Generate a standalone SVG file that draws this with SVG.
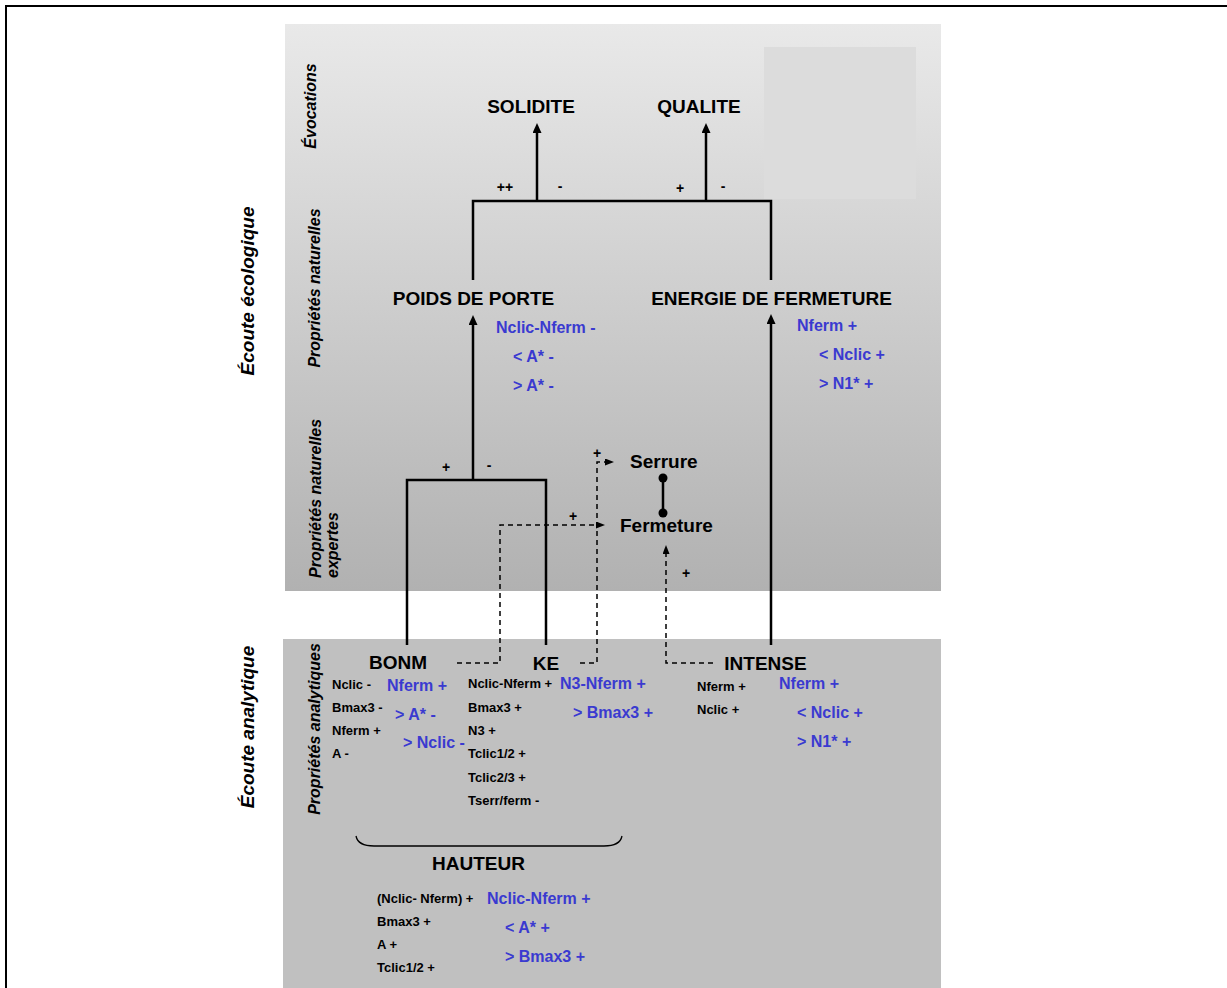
<svg xmlns="http://www.w3.org/2000/svg" width="1227" height="988" viewBox="0 0 1227 988">
<defs>
<linearGradient id="gTop" x1="0" y1="0" x2="0" y2="1">
<stop offset="0" stop-color="#e9e9e9"/>
<stop offset="1" stop-color="#b1b1b1"/>
</linearGradient>
<marker id="arr" markerUnits="userSpaceOnUse" markerWidth="10" markerHeight="9" refX="1" refY="4.5" orient="auto">
<path d="M0,0 L10,4.5 L0,9 z" fill="#000"/>
</marker>
<marker id="arrd" markerUnits="userSpaceOnUse" markerWidth="9" markerHeight="7" refX="1" refY="3.5" orient="auto">
<path d="M0,0 L9,3.5 L0,7 z" fill="#000"/>
</marker>
<style>
text{font-family:"Liberation Sans",Arial,sans-serif;font-weight:bold;fill:#000}
.t{font-size:19px}
.m{text-anchor:middle}
.b{font-size:16px;fill:#3a3ad0}
.s{font-size:13px}
.r{font-size:19px;font-style:italic;text-anchor:middle}
.p{font-size:16px;font-style:italic}
.sig{font-size:14px;text-anchor:middle}
.ln{fill:none;stroke:#000;stroke-width:2.5}
.dl{fill:none;stroke:#000;stroke-width:1.5;stroke-dasharray:5,4}
</style>
</defs>

<g id="background">
<rect x="0" y="0" width="1227" height="988" fill="#fff"/>
<path d="M6,988 V6 H1227" fill="none" stroke="#000" stroke-width="2"/>
<rect x="285" y="24" width="656" height="567" fill="url(#gTop)"/>
<rect x="764" y="47" width="152" height="152" fill="#dcdcdc"/>
<rect x="283" y="639" width="658" height="349" fill="#c0c0c0"/>
</g>

<g id="section-labels">
<text class="r" transform="translate(254,291) rotate(-90)">Écoute écologique</text>
<text class="r" transform="translate(254,727) rotate(-90)">Écoute analytique</text>
<text class="p" text-anchor="middle" transform="translate(316,106) rotate(-90)">Évocations</text>
<text class="p" text-anchor="middle" transform="translate(320,288) rotate(-90)">Propriétés naturelles</text>
<text class="p" transform="translate(321,578) rotate(-90)">Propriétés naturelles</text>
<text class="p" transform="translate(338,578) rotate(-90)">expertes</text>
<text class="p" text-anchor="middle" transform="translate(320,729) rotate(-90)">Propriétés analytiques</text>
</g>

<g id="connectors">
<path class="ln" d="M473,280 V201 H771 V280"/>
<path class="ln" d="M537,201 V132" marker-end="url(#arr)"/>
<path class="ln" d="M706,201 V132" marker-end="url(#arr)"/>
<path class="ln" d="M407,645 V480 H546 V645"/>
<path class="ln" d="M473,480 V324" marker-end="url(#arr)"/>
<path class="ln" d="M771,645 V323" marker-end="url(#arr)"/>
<path class="ln" d="M663,478 V513"/>
<circle cx="663" cy="478" r="4.5" fill="#000"/>
<circle cx="663" cy="513" r="4.5" fill="#000"/>
<path class="dl" d="M457,663 H500 V525 H597" marker-end="url(#arrd)"/>
<path class="dl" d="M580,663 H597 V462 H606" marker-end="url(#arrd)"/>
<path class="dl" d="M713,663 H666 V553" marker-end="url(#arrd)"/>
<path d="M356,836 Q358,846 374,846 H604 Q620,846 622,836" fill="none" stroke="#000" stroke-width="1.3"/>
<text class="sig" x="505" y="192">++</text>
<text class="sig" x="560" y="191">-</text>
<text class="sig" x="680" y="193">+</text>
<text class="sig" x="723" y="191">-</text>
<text class="sig" x="446" y="472">+</text>
<text class="sig" x="489" y="470">-</text>
<text class="sig" x="573" y="521">+</text>
<text class="sig" x="597" y="458">+</text>
<text class="sig" x="686" y="578">+</text>
</g>

<g id="node-solidite"><text class="t m" x="531" y="113">SOLIDITE</text></g>
<g id="node-qualite"><text class="t m" x="699" y="113">QUALITE</text></g>

<g id="node-poids">
<text class="t m" x="473.5" y="305">POIDS DE PORTE</text>
<text class="b" x="496" y="333">Nclic-Nferm -</text>
<text class="b" x="513" y="362">&lt; A* -</text>
<text class="b" x="513" y="391">&gt; A* -</text>
</g>

<g id="node-energie">
<text class="t m" x="771.5" y="305">ENERGIE DE FERMETURE</text>
<text class="b" x="797" y="331">Nferm +</text>
<text class="b" x="819" y="360">&lt; Nclic +</text>
<text class="b" x="819" y="389">&gt; N1* +</text>
</g>

<g id="node-serrure"><text class="t" x="630" y="468">Serrure</text></g>
<g id="node-fermeture"><text class="t" x="620" y="532">Fermeture</text></g>

<g id="node-bonm">
<text class="t m" x="398" y="669">BONM</text>
<text class="s" x="332" y="689">Nclic -</text>
<text class="s" x="332" y="712">Bmax3 -</text>
<text class="s" x="332" y="735">Nferm +</text>
<text class="s" x="332" y="758">A -</text>
<text class="b" x="387" y="691">Nferm +</text>
<text class="b" x="395" y="720">&gt; A* -</text>
<text class="b" x="403" y="748">&gt; Nclic -</text>
</g>

<g id="node-ke">
<text class="t m" x="546" y="670">KE</text>
<text class="s" x="468" y="688">Nclic-Nferm +</text>
<text class="s" x="468" y="712">Bmax3 +</text>
<text class="s" x="468" y="735">N3 +</text>
<text class="s" x="468" y="758">Tclic1/2 +</text>
<text class="s" x="468" y="782">Tclic2/3 +</text>
<text class="s" x="468" y="805">Tserr/ferm -</text>
<text class="b" x="560" y="689">N3-Nferm +</text>
<text class="b" x="573" y="718">&gt; Bmax3 +</text>
</g>

<g id="node-intense">
<text class="t m" x="765.5" y="670">INTENSE</text>
<text class="s" x="697" y="691">Nferm +</text>
<text class="s" x="697" y="714">Nclic +</text>
<text class="b" x="779" y="689">Nferm +</text>
<text class="b" x="797" y="718">&lt; Nclic +</text>
<text class="b" x="797" y="747">&gt; N1* +</text>
</g>

<g id="node-hauteur">
<text class="t m" x="478.5" y="870">HAUTEUR</text>
<text class="s" x="377" y="903">(Nclic- Nferm) +</text>
<text class="s" x="377" y="926">Bmax3 +</text>
<text class="s" x="377" y="949">A +</text>
<text class="s" x="377" y="972">Tclic1/2 +</text>
<text class="b" x="487" y="904">Nclic-Nferm +</text>
<text class="b" x="505" y="933">&lt; A* +</text>
<text class="b" x="505" y="962">&gt; Bmax3 +</text>
</g>
</svg>
